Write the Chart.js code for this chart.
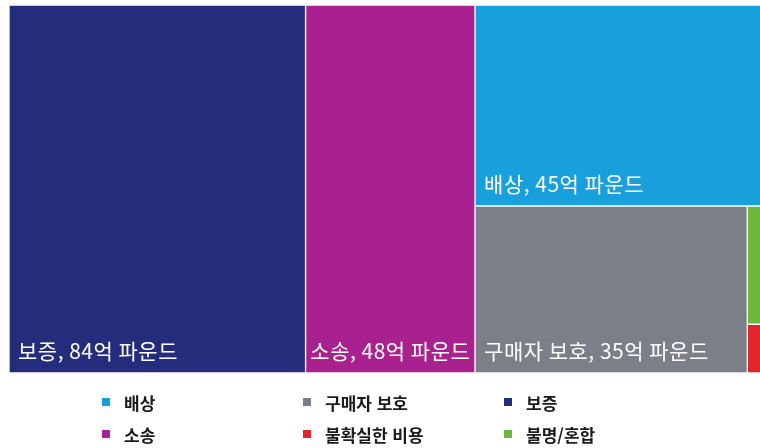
<!DOCTYPE html>
<html lang="ko">
<head>
<meta charset="utf-8">
<script src="https://cdn.jsdelivr.net/npm/chart.js@4/dist/chart.umd.min.js"></script>
<style>
  html, body { margin: 0; padding: 0; background: #ffffff; }
  body { width: 760px; height: 448px; overflow: hidden; position: relative; font-family: "Noto Sans CJK KR", "Noto Sans", sans-serif; }
  #wrap { position: absolute; left: 0; top: 0; width: 766px; height: 376px; }
  #legend { position: absolute; left: 0; top: 0; width: 760px; height: 448px; pointer-events: none; }
  .item { position: absolute; display: flex; align-items: center; height: 22px; font-size: 17px; color: #1a1a1a; font-weight: 600; white-space: nowrap; }
  .sw { width: 8px; height: 8px; margin-right: 14px; }
</style>
</head>
<body>
<div id="wrap"><canvas id="c" width="766" height="376"></canvas></div>
<div id="legend"></div>
<script>
// ---- data ----
const categories = ['배상', '구매자 보호', '보증', '소송', '불확실한 비용', '불명/혼합'];
const values = [45, 35, 84, 48, 0.7, 1.7];
const unit = '억 파운드';
// treemap structure (indices into categories): 'h' = side-by-side, 'v' = stacked
const layoutTree = ['h', [2, 3, ['v', [0, ['h', [1, ['v', [5, 4]]]]]]]];

// ---- styles ----
const colors = ['#17a0dc', '#7b8088', '#242d7c', '#a8218e', '#e2252b', '#6cb93d'];

// ---- layout computed from values ----
function leafSum(node) {
  if (typeof node === 'number') return values[node];
  return node[1].reduce((s, c) => s + leafSum(c), 0);
}
const total = leafSum(layoutTree);
const rects = [];
function place(node, x0, x1, y0, y1) {
  if (typeof node === 'number') { rects[node] = { x0, x1, y0, y1 }; return; }
  const [dir, kids] = node;
  const sum = leafSum(node);
  let pos = dir === 'h' ? x0 : y0;
  kids.forEach(k => {
    const frac = leafSum(k) / sum;
    if (dir === 'h') {
      const w = (x1 - x0) * frac;
      place(k, pos, pos + w, y0, y1); pos += w;
    } else {
      const h = (y1 - y0) * frac;
      place(k, x0, x1, pos, pos + h); pos += h;
    }
  });
}
place(layoutTree, 0, total, 0, 1);

const datasets = categories.map((name, i) => {
  const r = rects[i];
  return {
    label: name,
    data: [{ x: (r.x0 + r.x1) / 2, y: [r.y0, r.y1] }],
    backgroundColor: colors[i],
    borderColor: '#ffffff',
    borderWidth: 1,
    borderSkipped: false,
    grouped: false,
    barThickness: (ctx) => {
      const s = ctx.chart.scales.x;
      return Math.abs(s.getPixelForValue(r.x1) - s.getPixelForValue(r.x0));
    }
  };
});

const labelPlugin = {
  id: 'cellLabels',
  afterDatasetsDraw(chart) {
    const ctx = chart.ctx;
    ctx.save();
    ctx.font = '21px "Noto Sans CJK KR", "Noto Sans", sans-serif';
    try { ctx.letterSpacing = '0.5px'; } catch (e) {}
    ctx.fillStyle = '#ffffff';
    ctx.textBaseline = 'middle';
    ctx.textAlign = 'left';
    chart.data.datasets.forEach((ds, i) => {
      const el = chart.getDatasetMeta(i).data[0];
      if (!el) return;
      const p = el.getProps(['x', 'y', 'base', 'width'], true);
      const left = p.x - p.width / 2;
      const bottom = Math.max(p.y, p.base);
      const height = Math.abs(p.base - p.y);
      const text = categories[i] + ', ' + values[i] + unit;
      const tw = ctx.measureText(text).width;
      if (tw + 4 > p.width || height < 40) return;
      const pad = Math.min(9, (p.width - tw) / 2);
      ctx.fillText(text, left + pad, bottom - 22);
    });
    ctx.restore();
  }
};

new Chart(document.getElementById('c'), {
  type: 'bar',
  data: { datasets },
  options: {
    responsive: false,
    animation: false,
    indexAxis: 'x',
    layout: { padding: { left: 9, top: 5, right: 0, bottom: 3 } },
    scales: {
      x: { type: 'linear', min: 0, max: total, offset: false, display: false },
      y: { type: 'linear', min: 0, max: 1, reverse: true, display: false }
    },
    plugins: { legend: { display: false }, tooltip: { enabled: false } }
  },
  plugins: [labelPlugin]
});

// ---- legend (3 columns x 2 rows, in dataset order) ----
const legend = document.getElementById('legend');
categories.forEach((name, i) => {
  const col = i % 3, row = Math.floor(i / 3);
  const d = document.createElement('div');
  d.className = 'item';
  d.style.left = (102 + col * 201) + 'px';
  d.style.top = (391 + row * 32) + 'px';
  const sw = document.createElement('span');
  sw.className = 'sw';
  sw.style.background = colors[i];
  const t = document.createElement('span');
  t.textContent = name;
  d.appendChild(sw); d.appendChild(t);
  legend.appendChild(d);
});
</script>
</body>
</html>
